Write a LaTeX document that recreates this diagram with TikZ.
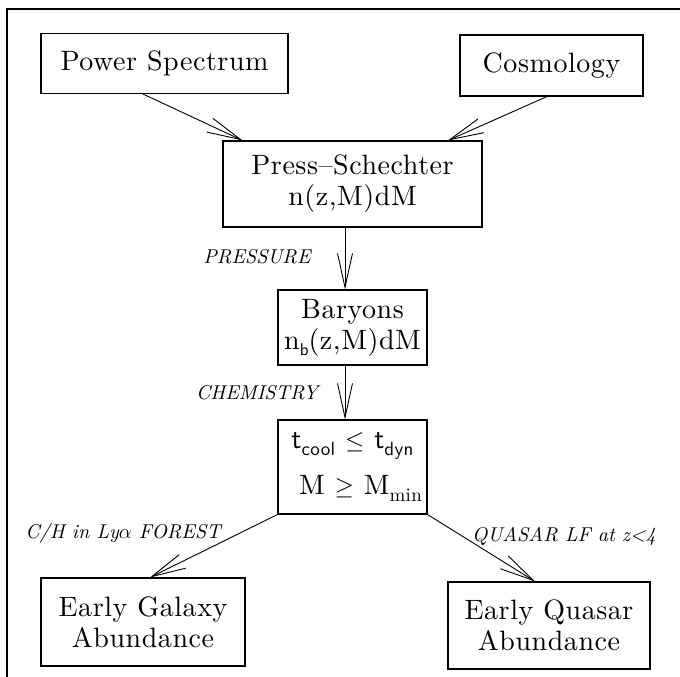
\documentclass[tikz,border=0pt]{standalone}
\usepackage{fontspec}
\usetikzlibrary{arrows.meta}
\newfontfamily\boxfont{lmroman10-regular.otf}[LetterSpace=2]
\newfontfamily\boxsans{lmsans10-regular.otf}[LetterSpace=2]
\newfontfamily\labfont{lmroman10-italic.otf}
\newcommand{\lowsub}[1]{\raisebox{-0.5ex}{\fontsize{19}{19}\selectfont #1}}
\tikzset{
  stage/.style={draw, line width=1.1pt, inner sep=0pt, align=center,
    font=\fontsize{28}{31}\boxfont},
  flow/.style={line width=0.9pt, -{Straight Barb[length=34pt,width=15pt]}},
  tag/.style={font=\fontsize{20}{22}\labfont, inner sep=0pt},
}
\begin{document}
\begin{tikzpicture}[x=1pt, y=-1pt]
\useasboundingbox (0,0) rectangle (680,677);
% open frame around the chart
\draw[line width=1.1pt] (7,677) -- (7,9) -- (680,9);

% boxes
\node[stage, minimum width=247pt, minimum height=60pt] (power) at (164.5,63.5) {Power Spectrum};
\node[stage, minimum width=183pt, minimum height=61pt] (cosmo) at (551.5,65.5) {Cosmology};
\node[stage, minimum width=259pt, minimum height=86pt] (ps) at (352.5,184)
  {Press–Schechter\\n(z,M)dM};
\node[stage, minimum width=149pt, minimum height=75pt] (bary) at (352.5,327.5)
  {Baryons\\n\raisebox{-0.5ex}{\fontsize{17}{17}\boxsans b}(z,M)dM};
\node[stage, minimum width=149pt, minimum height=94pt] (crit) at (352.5,467)
  {{\boxsans t}\lowsub{\boxsans cool} $\leq$ {\boxsans t}\lowsub{\boxsans dyn}\\[15pt]
   \hspace*{16pt}M $\geq$ M\lowsub{min}};
\node[stage, minimum width=204pt, minimum height=88pt] (galaxy) at (143,622)
  {Early Galaxy\\Abundance};
\node[stage, minimum width=202pt, minimum height=87pt] (quasar) at (549,625.5)
  {Early Quasar\\Abundance};

% connectors
\draw[flow] ([xshift=-21.5pt]power.south) -- ([xshift=-110pt]ps.north);
\draw[flow] ([xshift=-4.5pt]cosmo.south) -- ([xshift=95.5pt]ps.north);
\draw[flow] ([xshift=-7.5pt]ps.south) -- ([xshift=-7.5pt]bary.north);
\draw[flow] ([xshift=-7.5pt]bary.south) -- ([xshift=-7.5pt]crit.north);
\draw[flow] (crit.south west) -- ([xshift=7pt]galaxy.north);
\draw[flow] (crit.south east) -- ([xshift=-14pt]quasar.north);

% process labels
\node[tag] (lpress) at (257,257) {PRESSURE};
\node[tag] (lchem) at (257,393) {CHEMISTRY};
\node[tag] (lcarb) at (123,533) {C/H in Ly$\alpha$ FOREST};
\node[tag] (lqso) at (564,536) {QUASAR LF at z<4};
\end{tikzpicture}
\end{document}
